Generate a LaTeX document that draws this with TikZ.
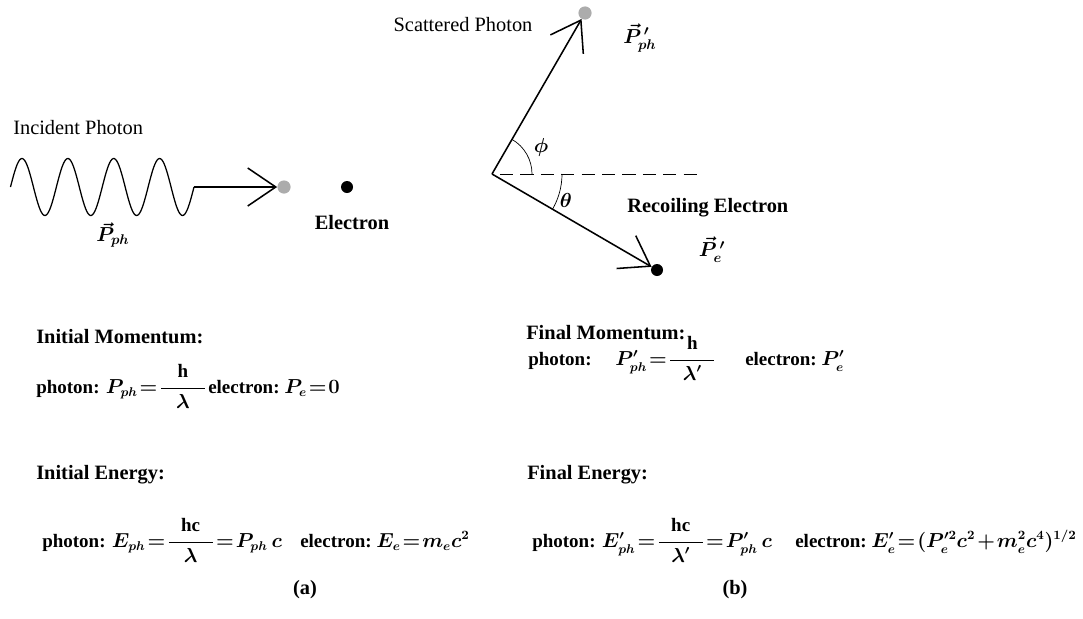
\documentclass[tikz,border=0pt]{standalone}
\usepackage{amsmath}
\usepackage{fontspec}
\setmainfont{Liberation Serif}
\usetikzlibrary{arrows.meta}

\newcommand\tightmath{\thickmuskip=1.5mu\medmuskip=1.5mu\relax}

\begin{document}
\begin{tikzpicture}[x=0.025cm, y=0.025cm,
  gdot/.style={circle, fill=gray!65, inner sep=0pt, minimum size=0.33cm},
  bdot/.style={circle, fill=black, inner sep=0pt, minimum size=0.3cm},
  arr/.style={-{Straight Barb[length=0.7cm, width=0.95cm]}, line width=1.1pt},
  wave/.style={line width=0.9pt},
  lbl/.style={font=\fontsize{14.5}{17}\selectfont, inner sep=0pt},
  blbl/.style={font=\fontsize{14.5}{17}\selectfont\bfseries\boldmath, inner sep=0pt},
  eqn/.style={font=\fontsize{13.5}{16}\selectfont\bfseries\boldmath\tightmath,
    inner sep=0pt, anchor=base west},
  vlbl/.style={font=\fontsize{14.5}{17}\selectfont\boldmath, inner sep=0pt},
]
\useasboundingbox (0,0) rectangle (1083,-618);

% (a) incident photon and electron at rest
\node[lbl, anchor=west] (inc) at (13,-128) {Incident Photon};
\coordinate (wbeg) at (10.5,-187);
\coordinate (wend) at (194,-187);
\draw[wave] plot[domain=10.5:194, samples=160, smooth]
  (\x, {-187+28.5*sin(7.8474*(\x-10.5))});
\node[gdot] (inph) at (284,-187) {};
\node[bdot] (el) at (347,-187) {};
\draw[arr] (wend) -- (inph);
\node[vlbl] (pph) at (113,-235) {$\vec{P}_{ph}$};
\node[blbl] (elec) at (352,-223) {Electron};

% (b) scattered photon and recoiling electron
\coordinate (O) at (492,-174);
\coordinate (dend) at (700,-174);
\node[gdot] (scph) at (585,-13) {};
\node[bdot] (rel) at (657,-270) {};
\draw[dashed, dash pattern=on 0.33cm off 0.18cm, dash phase=-0.2cm] (O) -- (dend);
\draw[arr] (O) -- (scph);
\draw[arr] (O) -- (rel);
\draw[line width=0.5pt] (O) ++(0:40) arc[start angle=0, end angle=59.6, radius=40];
\draw[line width=0.5pt] (O) ++(0:70) arc[start angle=0, end angle=-30.4, radius=70];
\node[vlbl] (phi) at (541,-147) {$\phi$};
\node[vlbl] (theta) at (566,-200) {$\theta$};
\node[lbl] (scat) at (463,-25) {Scattered Photon};
\node[vlbl] (pphs) at (640,-38) {$\vec{P}^{\,\prime}_{ph}$};
\node[blbl, anchor=west] (recl) at (627,-208) {Recoiling Electron};
\node[vlbl] (pes) at (712,-250) {$\vec{P}^{\,\prime}_{e}$};

% Momentum
\node[blbl, anchor=west] (imtit) at (36,-337) {Initial Momentum:};
\node[eqn] (imph) at (36,-393)
  {photon: $P_{ph}=\dfrac{\mathrm{h}}{\makebox[2.3em]{$\lambda$}}$};
\node[eqn] (imel) at (208,-393) {electron:\ $P_e=0$};
\node[blbl, anchor=west] (fmtit) at (526,-333) {Final Momentum:};
\node[eqn] (fmph) at (528,-365)
  {photon:\quad\ $P'_{ph}=\dfrac{\mathrm{h}}{\makebox[2.3em]{$\lambda'$}}$};
\node[eqn] (fmel) at (745,-365) {electron:\ $P'_e$};

% Energy
\node[blbl, anchor=west] (ietit) at (36,-475) {Initial Energy:};
\node[eqn] (ieph) at (42,-547)
  {photon: $E_{ph}=\dfrac{\mathrm{hc}}{\makebox[2.3em]{$\lambda$}}=P_{ph}\,c$};
\node[eqn] (ieel) at (300,-547) {electron:\ $E_e=m_e c^2$};
\node[blbl, anchor=west] (fetit) at (527,-475) {Final Energy:};
\node[eqn] (feph) at (532,-547)
  {photon: $E'_{ph}=\dfrac{\mathrm{hc}}{\makebox[2.3em]{$\lambda'$}}=P'_{ph}\,c$};
\node[eqn] (feel) at (795,-547)
  {electron:\ $E'_e=(P'^2_e c^2+m_e^2c^4)^{1/2}$};

% captions
\node[blbl] (capa) at (305,-590) {(a)};
\node[blbl] (capb) at (735,-590) {(b)};
\end{tikzpicture}
\end{document}
